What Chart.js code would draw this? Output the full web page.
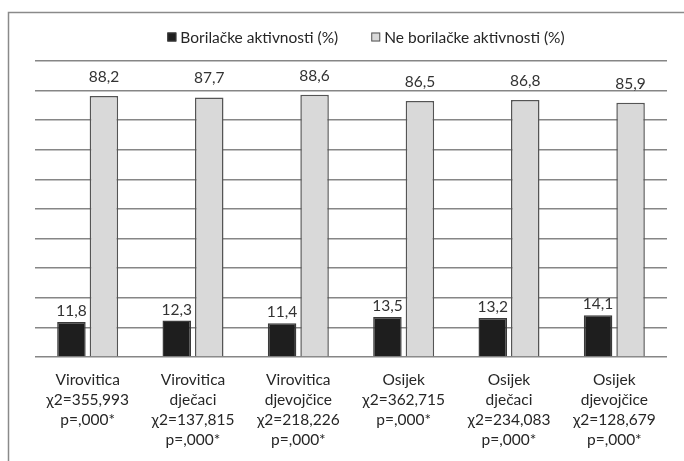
<!DOCTYPE html>
<html>
<head>
<meta charset="utf-8">
<script src="https://cdn.jsdelivr.net/npm/chart.js@4.4.1/dist/chart.umd.min.js"></script>
<style>
  html, body { margin: 0; padding: 0; background: #fff; }
  #wrap { position: relative; width: 684px; height: 461px; }
</style>
</head>
<body>
<div id="wrap"><canvas id="chart" width="684" height="461"></canvas></div>
<script>
// categories (multi-line x labels)
const categories = [
  ['Virovitica', 'χ2=355,993', 'p=,000*'],
  ['Virovitica', 'dječaci', 'χ2=137,815', 'p=,000*'],
  ['Virovitica', 'djevojčice', 'χ2=218,226', 'p=,000*'],
  ['Osijek', 'χ2=362,715', 'p=,000*'],
  ['Osijek', 'dječaci', 'χ2=234,083', 'p=,000*'],
  ['Osijek', 'djevojčice', 'χ2=128,679', 'p=,000*']
];
const seriesNames = ['Borilačke aktivnosti (%)', 'Ne borilačke aktivnosti (%)'];
const martial = [11.8, 12.3, 11.4, 13.5, 13.2, 14.1];
const nonMartial = [88.2, 87.7, 88.6, 86.5, 86.8, 85.9];
const yMin = 0, yMax = 100, yStep = 10;

const FONT = 'Lato';
const TEXT = '#262626';

const fmt = v => v.toFixed(1).replace('.', ',');

// outer frame like the original figure box
const framePlugin = {
  id: 'frame',
  beforeDraw(chart) {
    const ctx = chart.ctx;
    ctx.save();
    ctx.strokeStyle = '#8a8a8a';
    ctx.lineWidth = 1.5;
    ctx.beginPath();
    ctx.moveTo(8.5, chart.height);
    ctx.lineTo(8.5, 12.5);
    ctx.lineTo(chart.width, 12.5);
    ctx.stroke();
    ctx.restore();
  }
};

// value labels above the bars
const valueLabels = {
  id: 'valueLabels',
  afterDatasetsDraw(chart) {
    const ctx = chart.ctx;
    ctx.save();
    ctx.font = '15.5px ' + FONT;
    ctx.fillStyle = '#333';
    ctx.textAlign = 'center';
    ctx.textBaseline = 'alphabetic';
    chart.data.datasets.forEach((ds, i) => {
      const meta = chart.getDatasetMeta(i);
      const off = i === 0 ? 6 : 14;
      meta.data.forEach((bar, j) => {
        ctx.fillText(fmt(ds.data[j]), bar.x, bar.y - off);
      });
    });
    ctx.restore();
  }
};

// legend drawn by hand so it can sit where the original one sits
const customLegend = {
  id: 'customLegend',
  afterDraw(chart) {
    const ctx = chart.ctx;
    const box = 9, gapText = 4, gapItem = 33, cy = 37, centerX = 366;
    ctx.save();
    ctx.font = '15.5px ' + FONT;
    const items = chart.data.datasets.map(ds => ({
      label: ds.label, fill: ds.backgroundColor, stroke: ds.borderColor,
      w: ctx.measureText(ds.label).width
    }));
    let total = 0;
    items.forEach((it, i) => { total += box + gapText + it.w + (i ? gapItem : 0); });
    let x = centerX - total / 2;
    ctx.textBaseline = 'middle';
    ctx.textAlign = 'left';
    items.forEach(it => {
      ctx.fillStyle = it.fill;
      ctx.fillRect(x, cy - box / 2, box, box);
      ctx.strokeStyle = it.stroke;
      ctx.lineWidth = 1;
      ctx.strokeRect(x + 0.5, cy - box / 2 + 0.5, box - 1, box - 1);
      ctx.fillStyle = TEXT;
      ctx.fillText(it.label, x + box + gapText, cy + 1);
      x += box + gapText + it.w + gapItem;
    });
    ctx.restore();
  }
};

new Chart(document.getElementById('chart'), {
  type: 'bar',
  data: {
    labels: categories,
    datasets: [
      {
        label: seriesNames[0],
        data: martial,
        backgroundColor: '#1e1e1e',
        borderColor: '#3a3a3a',
        borderWidth: 1.5
      },
      {
        label: seriesNames[1],
        data: nonMartial,
        backgroundColor: '#d9d9d9',
        borderColor: '#555555',
        borderWidth: 1.5
      }
    ]
  },
  options: {
    responsive: false,
    animation: false,
    devicePixelRatio: 1,
    categoryPercentage: 0.617,
    barPercentage: 0.877,
    layout: { padding: { left: 35, right: 17, top: 61, bottom: 11 } },
    plugins: {
      legend: { display: false },
      tooltip: { enabled: false }
    },
    scales: {
      x: {
        grid: { display: false, drawTicks: false },
        border: { display: false },
        ticks: {
          font: { family: FONT, size: 15.5, lineHeight: 1.29 },
          color: TEXT,
          padding: 13,
          maxRotation: 0,
          autoSkip: false
        },
        afterFit(scale) { scale.height = 93; }
      },
      y: {
        min: yMin,
        max: yMax,
        ticks: { display: false, stepSize: yStep },
        grid: { color: '#868686', lineWidth: 1.5, drawTicks: false },
        border: { display: false }
      }
    }
  },
  plugins: [framePlugin, valueLabels, customLegend]
});
</script>
</body>
</html>
